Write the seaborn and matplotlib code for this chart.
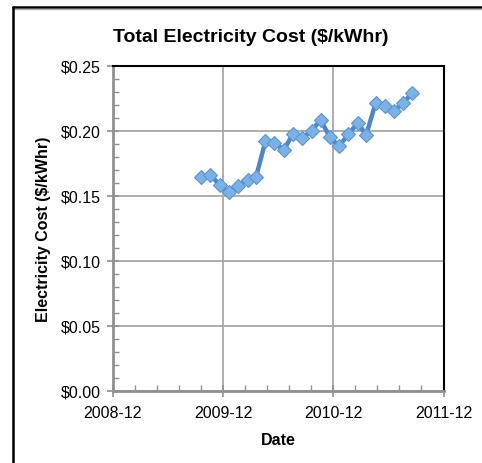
import pandas as pd
import matplotlib
matplotlib.use("Agg")
import matplotlib.pyplot as plt
import matplotlib.dates as mdates
from matplotlib.ticker import MultipleLocator, FuncFormatter, FixedLocator
from matplotlib.lines import Line2D
import seaborn as sns

# Monthly electricity cost readings ($/kWhr)
months = pd.date_range("2009-09-01", periods=24, freq="MS") + pd.Timedelta(days=19)
cost = [0.1642, 0.1659, 0.1582, 0.1526, 0.1577, 0.1623, 0.1646, 0.1918,
        0.1905, 0.1852, 0.1975, 0.1942, 0.2000, 0.2082, 0.1949, 0.1880,
        0.1975, 0.2059, 0.1967, 0.2213, 0.2192, 0.2154, 0.2213, 0.2290]
x_ticks = ["2008-12-01", "2009-12-01", "2010-12-01", "2011-12-01"]

df = pd.DataFrame({"Date": months, "Cost": cost})

sns.set_style("white")
plt.rcParams["font.family"] = ["Liberation Sans", "DejaVu Sans"]
plt.rcParams["text.color"] = "black"
plt.rcParams["axes.labelcolor"] = "black"
plt.rcParams["xtick.color"] = "black"
plt.rcParams["ytick.color"] = "black"

fig = plt.figure(figsize=(4.82, 4.64), dpi=100)
ax = fig.add_axes([113 / 482, 72.3 / 464, 330.5 / 482, 325 / 464])

sns.lineplot(data=df, x="Date", y="Cost", ax=ax, color="#4a86c8", linewidth=3.2,
             marker="D", markersize=7.5, markerfacecolor="#7ab2e8",
             markeredgecolor="#5b95d2", markeredgewidth=0.8)

# axes and ticks
major = [mdates.date2num(pd.Timestamp(t)) for t in x_ticks]
minor = [a + (b - a) * k / 5 for a, b in zip(major[:-1], major[1:]) for k in range(1, 5)]
ax.set_xlim(major[0], major[-1])
ax.set_ylim(0, 0.25)
ax.xaxis.set_major_locator(FixedLocator(major))
ax.xaxis.set_minor_locator(FixedLocator(minor))
ax.xaxis.set_major_formatter(mdates.DateFormatter("%Y-%m"))
ax.yaxis.set_major_locator(MultipleLocator(0.05))
ax.yaxis.set_minor_locator(MultipleLocator(0.01))
ax.yaxis.set_major_formatter(FuncFormatter(lambda v, p: f"${v:.2f}"))

ax.grid(True, which="major", color="#a8a8a8", linewidth=1.3)
ax.tick_params(which="major", direction="inout", length=8, width=1.2,
               color="#909090", labelsize=11.5, labelcolor="black")
ax.tick_params(axis="y", which="major", pad=5)
ax.tick_params(axis="x", which="major", pad=6)
ax.tick_params(which="minor", direction="in", length=4, width=1,
               color="#909090")
ax.tick_params(axis="y", which="both", left=True)
ax.tick_params(axis="x", which="both", bottom=True)

for side in ["left", "bottom"]:
    ax.spines[side].set_color("#909090")
    ax.spines[side].set_linewidth(2)
for side in ["top", "right"]:
    ax.spines[side].set_color("black")
    ax.spines[side].set_linewidth(1.5)

ax.set_xlabel("Date", fontsize=11.5, fontweight="bold", labelpad=9)
ax.set_ylabel("Electricity Cost ($/kWhr)", fontsize=11.5, fontweight="bold", labelpad=7)

fig.text(251 / 482, 1 - 38 / 464, "Total Electricity Cost ($/kWhr)",
         ha="center", va="center", fontsize=14, fontweight="bold")

# outer frame (left and top edges visible)
fig.add_artist(Line2D([12.5 / 482, 1.0], [1 - 7.5 / 464, 1 - 7.5 / 464],
                      color="black", linewidth=1.8))
fig.add_artist(Line2D([12.5 / 482, 1.0], [1 - 9.8 / 464, 1 - 9.8 / 464],
                      color="#b0b0b0", linewidth=1))
fig.add_artist(Line2D([12.5 / 482, 12.5 / 482], [0, 1 - 7.5 / 464],
                      color="black", linewidth=1.8))

fig.savefig("out.png", dpi=100)
